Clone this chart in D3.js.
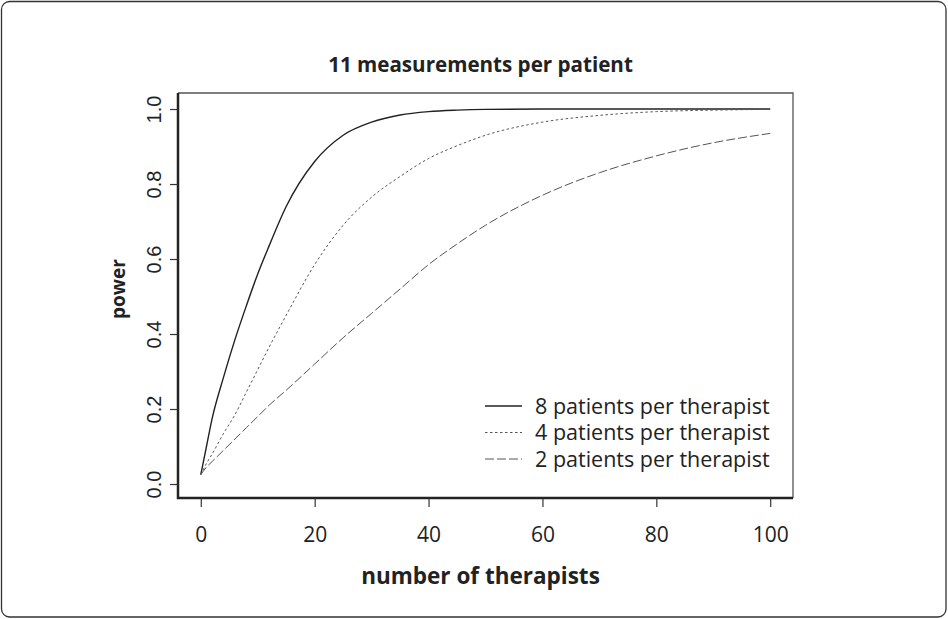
<!DOCTYPE html>
<html>
<head>
<meta charset="utf-8">
<script src="https://cdn.jsdelivr.net/npm/d3@7"></script>
<style>
  body { margin: 0; background: #fff; }
  text { fill: #222; }
</style>
</head>
<body>
<script>
// therapists on x, power on y
var therapists = [0, 1, 2, 4, 6, 8, 10, 12, 15, 20, 25, 30, 35, 40, 45, 50, 60, 70, 80, 90, 100];
var power8 = [0.025, 0.10, 0.175, 0.285, 0.385, 0.475, 0.56, 0.635, 0.74, 0.86, 0.93, 0.965, 0.984, 0.993, 0.997, 0.999, 1, 1, 1, 1, 1];
var power4 = [0.025, 0.055, 0.08, 0.135, 0.185, 0.245, 0.305, 0.365, 0.45, 0.585, 0.69, 0.765, 0.82, 0.868, 0.902, 0.93, 0.965, 0.983, 0.993, 0.997, 0.999];
var power2 = [0.025, 0.045, 0.06, 0.09, 0.12, 0.15, 0.18, 0.21, 0.25, 0.32, 0.39, 0.455, 0.52, 0.585, 0.64, 0.69, 0.77, 0.83, 0.875, 0.91, 0.935];
var seriesNames = ["8 patients per therapist", "4 patients per therapist", "2 patients per therapist"];
var xTicks = [0, 20, 40, 60, 80, 100];
var yTicks = [0, 0.2, 0.4, 0.6, 0.8, 1.0];

var W = 948, H = 619;
var plot = {left: 178, top: 93, right: 793, bottom: 498};
var sans = "'Open Sans', 'Noto Sans', sans-serif";

var svg = d3.select("body").append("svg")
	.attr("width", W)
	.attr("height", H);

// outer frame
svg.append("rect")
	.attr("x", 1.5).attr("y", 1.5)
	.attr("width", W - 3.5).attr("height", H - 3.5)
	.attr("rx", 8)
	.attr("fill", "none")
	.attr("stroke", "#333")
	.attr("stroke-width", 1.3);

var x = d3.scaleLinear()
	.domain([-4, 104])
	.range([plot.left, plot.right]);

var y = d3.scaleLinear()
	.domain([-0.0373, 1.0427])
	.range([plot.bottom, plot.top]);

// box: light on top/right, heavy on left/bottom
svg.append("path")
	.attr("d", "M" + plot.left + "," + plot.top + "H" + plot.right + "V" + plot.bottom)
	.attr("fill", "none").attr("stroke", "#555").attr("stroke-width", 1.3);
svg.append("path")
	.attr("d", "M" + plot.left + "," + plot.top + "V" + plot.bottom + "H" + plot.right)
	.attr("fill", "none").attr("stroke", "#222").attr("stroke-width", 2.5);

// x axis
var xAxis = svg.append("g")
	.attr("transform", "translate(0," + plot.bottom + ")")
	.call(d3.axisBottom(x).tickValues(xTicks).tickSize(9).tickSizeOuter(0).tickPadding(20));
xAxis.select(".domain").remove();
xAxis.selectAll("line").attr("stroke", "#333").attr("stroke-width", 1.2);
xAxis.selectAll("text")
	.style("font-family", sans)
	.style("font-size", "21px")
	.attr("fill", "#222");

// y axis, labels rotated like R
var yAxis = svg.append("g")
	.attr("transform", "translate(" + plot.left + ",0)")
	.call(d3.axisLeft(y).tickValues(yTicks).tickSize(8).tickSizeOuter(0).tickFormat(d3.format(".1f")));
yAxis.select(".domain").remove();
yAxis.selectAll("line").attr("stroke", "#333").attr("stroke-width", 1.2);
yAxis.selectAll("text")
	.attr("x", null).attr("dy", null)
	.attr("transform", "translate(-17,0) rotate(-90)")
	.attr("text-anchor", "middle")
	.style("font-family", "'Liberation Sans', Arial, sans-serif")
	.style("font-size", "20px")
	.attr("fill", "#222");

// title and axis labels
svg.append("text")
	.attr("x", (plot.left + plot.right) / 2 - 5).attr("y", 72)
	.attr("text-anchor", "middle")
	.style("font-family", sans).style("font-weight", "bold").style("font-size", "20.6px")
	.text("11 measurements per patient");

svg.append("text")
	.attr("x", (plot.left + plot.right) / 2 - 5).attr("y", 584)
	.attr("text-anchor", "middle")
	.style("font-family", sans).style("font-weight", "bold").style("font-size", "22.5px")
	.text("number of therapists");

svg.append("text")
	.attr("transform", "translate(125,289) rotate(-90)")
	.attr("text-anchor", "middle")
	.style("font-family", sans).style("font-weight", "bold").style("font-size", "19px")
	.text("power");

// curves
var series = [
	{name: seriesNames[0], values: power8, dash: null, color: "#222", width: 1.4},
	{name: seriesNames[1], values: power4, dash: "2.5,2.5", color: "#555", width: 1},
	{name: seriesNames[2], values: power2, dash: "9,3", color: "#555", width: 1}
];

var line = d3.line()
	.x(function(d, i) { return x(therapists[i]); })
	.y(function(d) { return y(d); })
	.curve(d3.curveMonotoneX);

svg.selectAll(".curve")
	.data(series)
	.enter().append("path")
	.attr("class", "curve")
	.attr("d", function(d) { return line(d.values); })
	.attr("fill", "none")
	.attr("stroke", function(d) { return d.color; })
	.attr("stroke-width", function(d) { return d.width; })
	.attr("stroke-dasharray", function(d) { return d.dash; });

// legend
var legend = svg.selectAll(".legend")
	.data(series)
	.enter().append("g")
	.attr("class", "legend")
	.attr("transform", function(d, i) { return "translate(485," + (406 + i * 26.5) + ")"; });

legend.append("line")
	.attr("x1", 0).attr("x2", 37)
	.attr("stroke", function(d) { return d.color; })
	.attr("stroke-width", function(d) { return d.width; })
	.attr("stroke-dasharray", function(d) { return d.dash; });

legend.append("text")
	.attr("x", 50).attr("y", 7.5)
	.style("font-family", sans).style("font-size", "21.5px")
	.text(function(d) { return d.name; });
</script>
</body>
</html>
